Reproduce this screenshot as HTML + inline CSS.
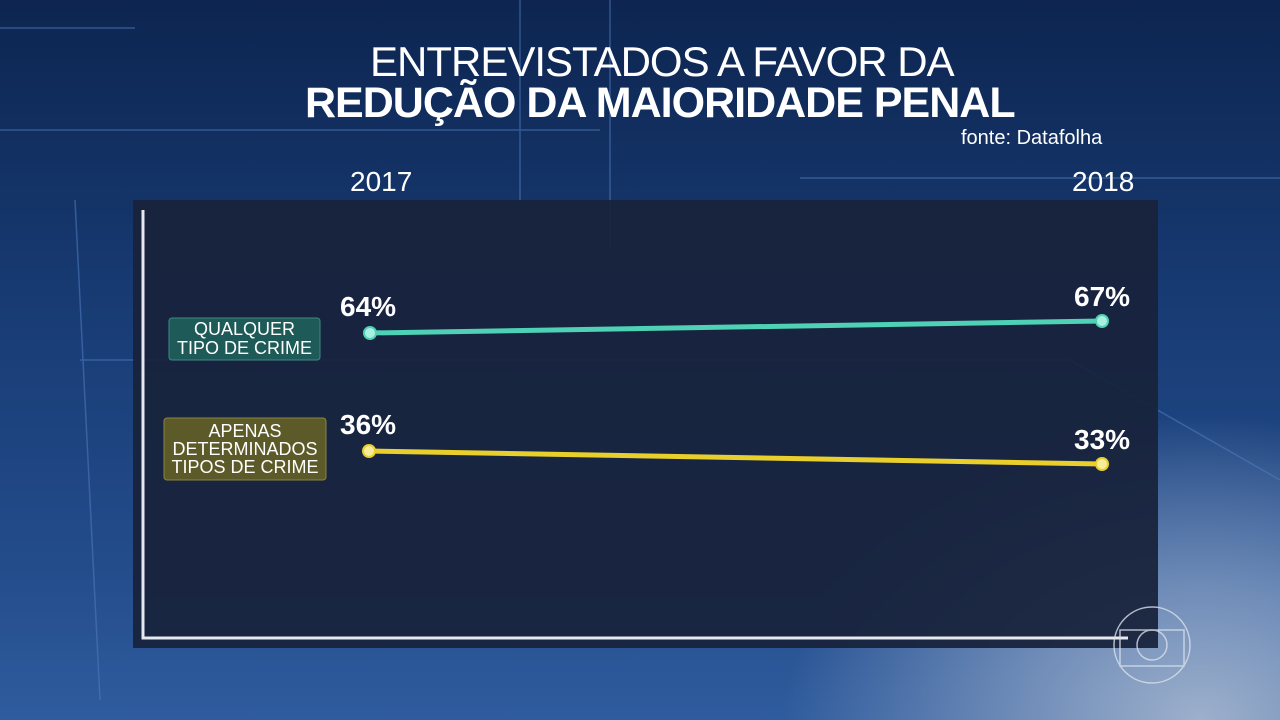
<!DOCTYPE html>
<html><head><meta charset="utf-8"><style>
body{margin:0;width:1280px;height:720px;overflow:hidden;font-family:"Liberation Sans",sans-serif;}
#bg{position:absolute;left:0;top:0;width:1280px;height:720px;
background:radial-gradient(ellipse 520px 380px at 1200px 720px,#9db0cc 0%,#6f8cb8 35%,rgba(40,80,140,0) 80%),linear-gradient(180deg,#0d2550 0%,#173a72 40%,#244d8c 80%,#2f5c9e 100%);}
.t{position:absolute;color:#fff;white-space:nowrap;}
</style></head><body>
<div id="bg"></div>
<svg width="1280" height="720" style="position:absolute;left:0;top:0">
<g stroke="#4f7cc0" stroke-width="1.5" fill="none" opacity="0.55">
<line x1="0" y1="28" x2="135" y2="28"/><line x1="80" y1="360" x2="1070" y2="360"/>
<line x1="75" y1="200" x2="100" y2="700"/><line x1="800" y1="178" x2="1280" y2="178"/>
<line x1="1070" y1="360" x2="1280" y2="480"/><line x1="520" y1="0" x2="520" y2="200"/>
<line x1="610" y1="0" x2="610" y2="250"/><line x1="0" y1="130" x2="600" y2="130"/>
</g>
<rect x="133" y="200" width="1025" height="448" fill="#18233b" opacity="0.94"/>
<polyline points="143,210 143,638 1128,638" fill="none" stroke="#e6e9ef" stroke-width="3"/>
<line x1="370" y1="333" x2="1102" y2="321" stroke="#4fd1b6" stroke-width="5"/>
<circle cx="370" cy="333" r="6" fill="#a8efe0" stroke="#4fd1b6" stroke-width="2"/>
<circle cx="1102" cy="321" r="6" fill="#a8efe0" stroke="#4fd1b6" stroke-width="2"/>
<line x1="369" y1="451" x2="1102" y2="464" stroke="#e8cf2c" stroke-width="5"/>
<circle cx="369" cy="451" r="6" fill="#f6ec9a" stroke="#e8cf2c" stroke-width="2"/>
<circle cx="1102" cy="464" r="6" fill="#f6ec9a" stroke="#e8cf2c" stroke-width="2"/>
<rect x="169" y="318" width="151" height="42" rx="3" fill="#1e5a58" stroke="#3e8a84" stroke-width="1"/>
<rect x="164" y="418" width="162" height="62" rx="3" fill="#5d5a2a" stroke="#8a8440" stroke-width="1"/>
<g fill="none" stroke="#d8e0ea" stroke-width="1.5" opacity="0.8">
<circle cx="1152" cy="645" r="38"/><rect x="1120" y="630" width="64" height="36"/><circle cx="1152" cy="645" r="15"/>
</g>
</svg>
<div class="t" style="left:370px;top:38px;font-size:42px;letter-spacing:-1px">ENTREVISTADOS A FAVOR DA</div>
<div class="t" style="left:305px;top:79px;font-size:43px;font-weight:bold;letter-spacing:-1px">REDUÇÃO DA MAIORIDADE PENAL</div>
<div class="t" style="left:961px;top:127px;font-size:20px">fonte: Datafolha</div>
<div class="t" style="left:350px;top:166px;font-size:28px">2017</div>
<div class="t" style="left:1072px;top:166px;font-size:28px">2018</div>
<div class="t" style="left:340px;top:291px;font-size:28px;font-weight:bold">64%</div>
<div class="t" style="left:1074px;top:281px;font-size:28px;font-weight:bold">67%</div>
<div class="t" style="left:340px;top:409px;font-size:28px;font-weight:bold">36%</div>
<div class="t" style="left:1074px;top:424px;font-size:28px;font-weight:bold">33%</div>
<div class="t" style="left:169px;top:320px;width:151px;text-align:center;font-size:18px;line-height:19px">QUALQUER<br>TIPO DE CRIME</div>
<div class="t" style="left:164px;top:422px;width:162px;text-align:center;font-size:18px;line-height:18px">APENAS<br>DETERMINADOS<br>TIPOS DE CRIME</div>
</body></html>
